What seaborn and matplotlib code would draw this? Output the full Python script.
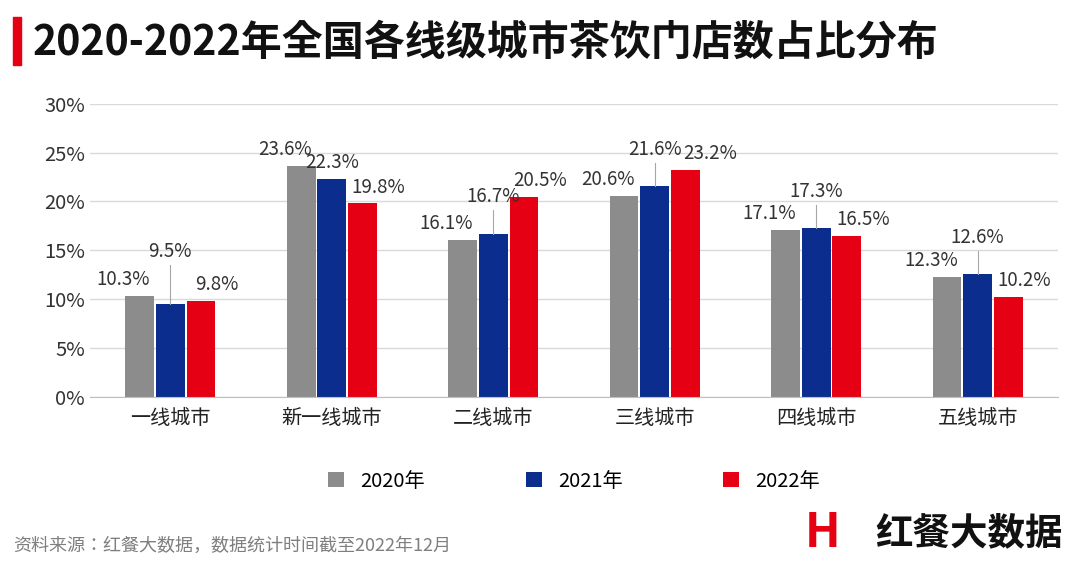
import matplotlib
matplotlib.use("Agg")
import matplotlib.pyplot as plt
from matplotlib import font_manager
import pandas as pd
import seaborn as sns

names = {f.name for f in font_manager.fontManager.ttflist}
cjk = [n for n in ["Noto Sans CJK SC", "Noto Sans CJK JP", "Noto Sans CJK TC", "Noto Sans CJK KR"] if n in names]
plt.rcParams["font.family"] = "sans-serif"
plt.rcParams["font.sans-serif"] = cjk + ["DejaVu Sans"]

CITIES = ["一线城市", "新一线城市", "二线城市", "三线城市", "四线城市", "五线城市"]
YEARS = ["2020年", "2021年", "2022年"]
V2020 = [10.3, 23.6, 16.1, 20.6, 17.1, 12.3]
V2021 = [9.5, 22.3, 16.7, 21.6, 17.3, 12.6]
V2022 = [9.8, 19.8, 20.5, 23.2, 16.5, 10.2]
COLORS = ["#8C8C8C", "#0B2D8E", "#E50014"]

# label heights (in %) where leader lines are used
LEADER = {(0, 1): 13.8, (2, 1): 19.4, (3, 1): 24.2, (4, 1): 19.9, (5, 1): 15.2}

df = pd.DataFrame({
    "city": CITIES * 3,
    "year": [y for y in YEARS for _ in CITIES],
    "value": V2020 + V2021 + V2022,
})

fig = plt.figure(figsize=(10.8, 5.67), dpi=100)
ax = fig.add_axes([0.083, 0.30, 0.897, 0.517])
sns.barplot(data=df, x="city", y="value", hue="year", palette=COLORS,
            width=0.57, gap=0.06, saturation=1, ax=ax, legend=True)
ax.set_ylim(0, 30)
ax.set_yticks(range(0, 31, 5))
ax.set_yticklabels([f"{t}%" for t in range(0, 31, 5)], fontsize=14.5, color="#333333")
ax.tick_params(axis="x", labelsize=14.5, colors="#222222", length=0, pad=8)
ax.tick_params(axis="y", length=0)
ax.set_xlabel("")
ax.set_ylabel("")
ax.grid(axis="y", color="#D9D9D9", linewidth=1)
ax.set_axisbelow(True)
for s in ["top", "right", "left"]:
    ax.spines[s].set_visible(False)
ax.spines["bottom"].set_color("#BFBFBF")
ax.set_xlim(-0.5, 5.5)

offs = [-0.19, 0.0, 0.19]
shift = [-0.1, 0.0, 0.1]
for j, vals in enumerate([V2020, V2021, V2022]):
    for i, v in enumerate(vals):
        x = i + offs[j]
        if (i, j) in LEADER:
            ly = LEADER[(i, j)]
            ax.plot([x, x], [v, ly - 0.3], color="#A6A6A6", linewidth=0.8)
            ax.text(x, ly, f"{v}%", ha="center", va="bottom", fontsize=13.5, color="#333333")
        else:
            ax.text(x + shift[j] + (0.05 if (i, j) == (3, 2) else 0), v + 0.6, f"{v}%",
                    ha="center", va="bottom", fontsize=13.5, color="#333333")

ax.legend(loc="upper center", bbox_to_anchor=(0.5, -0.19), ncol=3, frameon=False,
          fontsize=14.5, handlelength=0.8, handleheight=0.8, columnspacing=5)

fig.patches.append(plt.Rectangle((0.012, 0.885), 0.007, 0.085, transform=fig.transFigure,
                                 color="#E50014"))
fig.text(0.03, 0.925, "2020-2022年全国各线级城市茶饮门店数占比分布", fontsize=29.5,
         fontweight="bold", va="center", color="#111111")
fig.text(0.012, 0.038, "资料来源：红餐大数据，数据统计时间截至2022年12月", fontsize=13,
         color="#7F7F7F", va="center")
fig.text(0.745, 0.06, "H", fontsize=34, fontweight="bold", fontstyle="italic",
         color="#E50014", va="center")
fig.text(0.81, 0.06, "红餐大数据", fontsize=27, fontweight="bold", color="#111111", va="center")
fig.savefig("out.png", dpi=100)
